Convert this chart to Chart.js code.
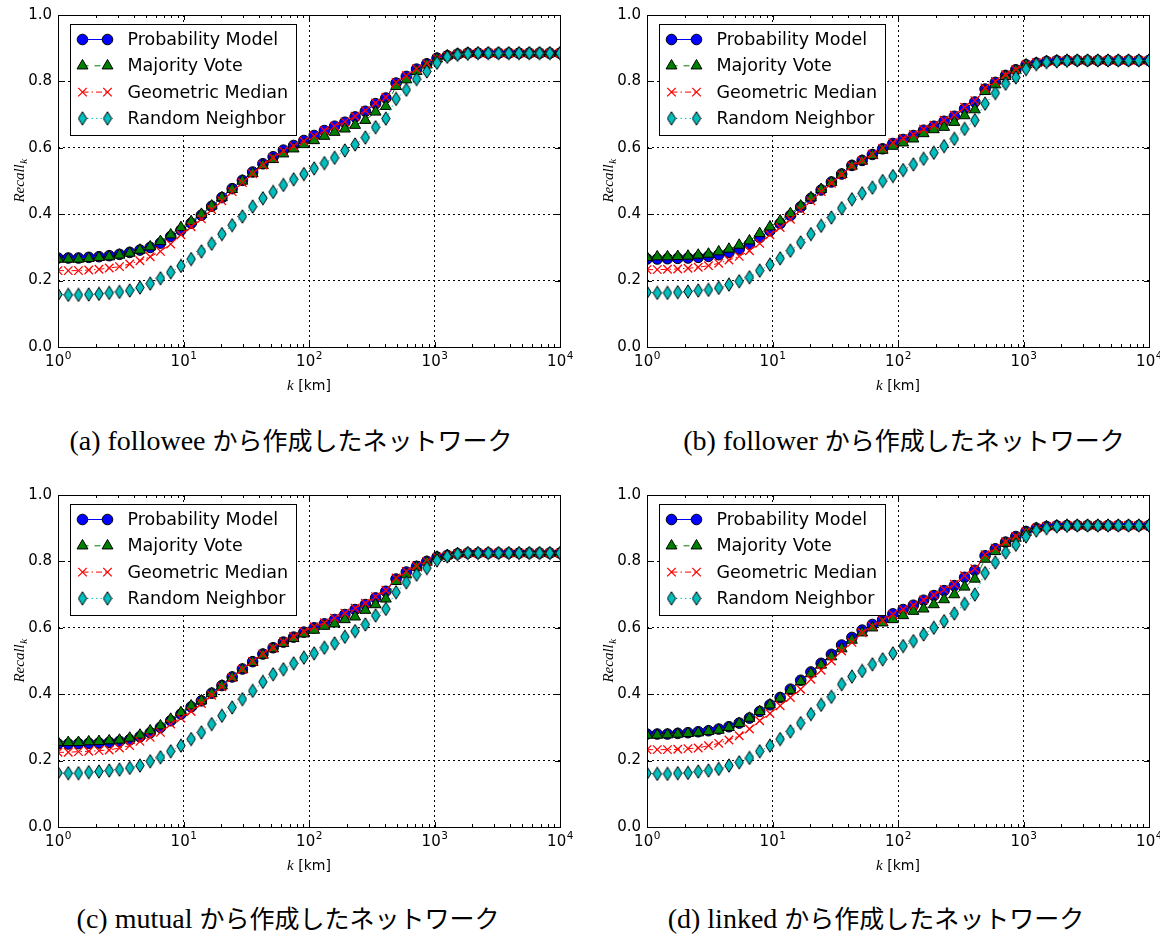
<!DOCTYPE html>
<html>
<head>
<meta charset="utf-8">
<script src="https://cdn.jsdelivr.net/npm/chart.js@4.4.1/dist/chart.umd.min.js"></script>
<style>
    body { margin: 0; background: #fff; width: 1160px; height: 938px; position: relative; overflow: hidden; }
    canvas.panel { position: absolute; }
    .caption {
        position: absolute; width: 580px; text-align: center; line-height: 34px; color: #000;
        font-family: "Liberation Serif", serif; font-size: 28px; white-space: nowrap;
    }
    .caption .ja { font-family: "Noto Sans CJK JP", sans-serif; font-size: 25px; }
</style>
</head>
<body>
<canvas id="chartA" class="panel" width="580" height="400" style="left:0;top:0"></canvas>
<canvas id="chartB" class="panel" width="580" height="400" style="left:589px;top:0"></canvas>
<canvas id="chartC" class="panel" width="580" height="400" style="left:0;top:480px"></canvas>
<canvas id="chartD" class="panel" width="580" height="400" style="left:589px;top:480px"></canvas>
<div class="caption" style="left:1px;top:422px">(a) followee <span class="ja">から作成したネットワーク</span></div>
<div class="caption" style="left:614px;top:422px">(b) follower <span class="ja">から作成したネットワーク</span></div>
<div class="caption" style="left:-2px;top:900px">(c) mutual <span class="ja">から作成したネットワーク</span></div>
<div class="caption" style="left:586px;top:900px">(d) linked <span class="ja">から作成したネットワーク</span></div>

<script>
// distance threshold k [km], 50 log-spaced steps from 1 to 10^4
const kValues = [1, 1.207, 1.456, 1.758, 2.121, 2.560, 3.089, 3.728, 4.498, 5.429,
    6.551, 7.906, 9.541, 11.51, 13.89, 16.77, 20.24, 24.42, 29.47, 35.56,
    42.92, 51.79, 62.51, 75.43, 91.03, 109.9, 132.6, 160.0, 193.1, 233.0,
    281.2, 339.3, 409.5, 494.2, 596.4, 719.7, 868.5, 1048, 1265, 1526,
    1842, 2223, 2683, 3237, 3907, 4715, 5690, 6866, 8286, 10000];

const xDecades = [1, 10, 100, 1000, 10000];
const xTickExponents = ['0', '1', '2', '3', '4'];
const yTicks = [0, 0.2, 0.4, 0.6, 0.8, 1.0];

const seriesLabels = ['Probability Model', 'Majority Vote', 'Geometric Median', 'Random Neighbor'];

// (a) followee network
const followeeProb = [.268, .268, .268, .270, .272, .275, .279, .285, .292, .300,
    .313, .333, .352, .373, .397, .424, .450, .477, .502, .527,
    .552, .573, .593, .607, .622, .637, .652, .665, .677, .693,
    .710, .733, .750, .795, .815, .837, .853, .870, .877, .882,
    .885, .885, .885, .885, .885, .885, .885, .885, .885, .885];
const followeeMajority = [.265, .265, .265, .267, .270, .272, .277, .283, .292, .302,
    .318, .338, .360, .378, .400, .425, .450, .475, .500, .523,
    .547, .565, .582, .597, .610, .622, .635, .647, .657, .668,
    .683, .708, .725, .785, .805, .830, .850, .868, .877, .882,
    .885, .885, .885, .885, .885, .885, .885, .885, .885, .885];
const followeeGeoMedian = [.230, .230, .230, .232, .234, .238, .242, .250, .260, .272,
    .288, .310, .338, .362, .386, .414, .440, .468, .495, .522,
    .548, .570, .590, .605, .620, .636, .652, .665, .678, .695,
    .712, .735, .752, .797, .817, .838, .853, .870, .877, .882,
    .884, .885, .885, .885, .885, .885, .885, .885, .885, .885];
const followeeRandom = [.158, .157, .157, .158, .160, .163, .166, .170, .179, .191,
    .207, .225, .244, .265, .288, .311, .340, .367, .393, .423,
    .448, .467, .488, .505, .521, .538, .554, .570, .592, .610,
    .631, .662, .688, .747, .775, .807, .830, .856, .874, .880,
    .883, .885, .885, .885, .885, .885, .885, .885, .885, .885];

// (b) follower network
const followerProb = [.265, .265, .266, .267, .268, .270, .273, .278, .285, .295,
    .310, .330, .350, .372, .396, .422, .448, .473, .497, .521,
    .547, .562, .580, .597, .613, .625, .637, .653, .665, .680,
    .695, .718, .738, .777, .797, .818, .835, .850, .855, .860,
    .862, .863, .863, .863, .863, .863, .863, .863, .863, .863];
const followerMajority = [.270, .272, .272, .273, .274, .277, .280, .287, .295, .307,
    .320, .342, .362, .380, .402, .425, .450, .475, .496, .520,
    .545, .560, .577, .593, .605, .615, .627, .643, .655, .662,
    .677, .697, .715, .770, .790, .815, .833, .850, .855, .860,
    .862, .863, .863, .863, .863, .863, .863, .863, .863, .863];
const followerGeoMedian = [.233, .233, .234, .235, .237, .240, .245, .252, .262, .273,
    .290, .312, .338, .360, .385, .413, .440, .468, .493, .519,
    .545, .562, .581, .599, .615, .628, .640, .656, .668, .683,
    .698, .722, .742, .780, .800, .820, .836, .850, .856, .860,
    .862, .863, .863, .863, .863, .863, .863, .863, .863, .863];
const followerRandom = [.165, .163, .163, .165, .167, .170, .172, .178, .188, .198,
    .210, .230, .248, .267, .290, .315, .340, .365, .390, .418,
    .445, .463, .480, .500, .515, .533, .550, .567, .585, .605,
    .627, .657, .683, .733, .765, .793, .812, .837, .852, .858,
    .860, .862, .863, .863, .863, .863, .863, .863, .863, .863];

// (c) mutual network
const mutualProb = [.250, .250, .251, .252, .253, .255, .258, .263, .272, .284,
    .300, .320, .340, .362, .380, .403, .426, .452, .476, .498,
    .521, .540, .557, .572, .587, .600, .612, .625, .640, .655,
    .670, .690, .710, .747, .768, .785, .800, .813, .818, .823,
    .825, .825, .825, .825, .825, .825, .825, .825, .825, .825];
const mutualMajority = [.255, .255, .255, .257, .258, .260, .262, .268, .277, .290,
    .305, .325, .345, .365, .380, .402, .425, .450, .474, .496,
    .518, .537, .553, .568, .582, .593, .605, .612, .625, .633,
    .653, .670, .687, .740, .760, .783, .798, .813, .818, .823,
    .825, .825, .825, .825, .825, .825, .825, .825, .825, .825];
const mutualGeoMedian = [.225, .225, .227, .228, .230, .232, .238, .245, .258, .270,
    .285, .310, .328, .348, .372, .397, .422, .450, .475, .499,
    .521, .540, .558, .574, .589, .603, .615, .629, .644, .659,
    .674, .694, .713, .750, .770, .786, .800, .813, .818, .823,
    .825, .825, .825, .825, .825, .825, .825, .825, .825, .825];
const mutualRandom = [.163, .162, .162, .165, .167, .170, .173, .178, .185, .198,
    .210, .228, .245, .265, .285, .310, .335, .360, .385, .410,
    .437, .460, .475, .493, .510, .523, .540, .553, .573, .590,
    .610, .637, .657, .707, .737, .760, .780, .803, .815, .822,
    .825, .825, .825, .825, .825, .825, .825, .825, .825, .825];

// (d) linked network
const linkedProb = [.280, .280, .280, .282, .284, .287, .290, .295, .302, .313,
    .328, .348, .368, .390, .415, .442, .467, .493, .520, .548,
    .571, .593, .610, .625, .642, .655, .668, .683, .697, .712,
    .727, .752, .773, .817, .838, .858, .875, .890, .900, .905,
    .907, .908, .908, .908, .908, .908, .908, .908, .908, .908];
const linkedMajority = [.277, .277, .278, .280, .282, .284, .288, .292, .300, .312,
    .328, .348, .368, .388, .412, .438, .462, .488, .513, .537,
    .563, .585, .600, .615, .625, .637, .650, .657, .670, .685,
    .700, .723, .747, .807, .830, .855, .870, .888, .900, .905,
    .907, .908, .908, .908, .908, .908, .908, .908, .908, .908];
const linkedGeoMedian = [.233, .233, .233, .234, .236, .238, .245, .252, .262, .275,
    .295, .320, .342, .365, .390, .415, .445, .472, .500, .530,
    .556, .585, .605, .622, .640, .655, .668, .684, .699, .715,
    .731, .757, .778, .820, .840, .859, .876, .890, .900, .905,
    .907, .908, .908, .908, .908, .908, .908, .908, .908, .908];
const linkedRandom = [.162, .160, .160, .162, .163, .167, .170, .175, .185, .195,
    .208, .228, .245, .265, .288, .313, .340, .368, .392, .430,
    .453, .470, .490, .505, .523, .545, .560, .580, .600, .620,
    .643, .672, .700, .765, .797, .827, .850, .875, .893, .900,
    .905, .907, .908, .908, .908, .908, .908, .908, .908, .908];

const panels = [
    { id: 'chartA', series: [followeeProb, followeeMajority, followeeGeoMedian, followeeRandom] },
    { id: 'chartB', series: [followerProb, followerMajority, followerGeoMedian, followerRandom] },
    { id: 'chartC', series: [mutualProb, mutualMajority, mutualGeoMedian, mutualRandom] },
    { id: 'chartD', series: [linkedProb, linkedMajority, linkedGeoMedian, linkedRandom] }
];

// thin diamond marker (matplotlib 'd')
function makeThinDiamond() {
    const c = document.createElement('canvas');
    c.width = 10;
    c.height = 15;
    const g = c.getContext('2d');
    g.beginPath();
    g.moveTo(5, 0.8);
    g.lineTo(9.2, 7.5);
    g.lineTo(5, 14.2);
    g.lineTo(0.8, 7.5);
    g.closePath();
    g.fillStyle = '#00bfbf';
    g.fill();
    g.strokeStyle = '#000';
    g.lineWidth = 1;
    g.stroke();
    return c;
}
const thinDiamond = makeThinDiamond();

const seriesStyles = [
    { line: '#0000ff', fill: '#0000ff', edge: '#000', marker: 'circle', radius: 5.3, width: 1, dash: [] },
    { line: '#008000', fill: '#008000', edge: '#000', marker: 'triangle', radius: 6.3, width: 1, dash: [6, 6] },
    { line: '#ff0000', fill: '#ff0000', edge: '#ff0000', marker: 'crossRot', radius: 6, width: 1.3, dash: [6, 3, 1.5, 3] },
    { line: '#00bfbf', fill: '#00bfbf', edge: '#000', marker: thinDiamond, radius: 6, width: 1, dash: [1.5, 3] }
];

const SANS = '"DejaVu Sans", sans-serif';
const SERIF = '"Liberation Serif", "DejaVu Serif", serif';

// frame, inward ticks, x tick labels, legend and axis titles
const axesDecor = {
    id: 'axesDecor',
    afterDatasetsDraw(chart) {
        const { ctx, chartArea: a, scales: { x, y } } = chart;
        ctx.save();
        ctx.strokeStyle = '#000';
        ctx.lineWidth = 1;
        ctx.setLineDash([]);
        ctx.beginPath();
        xDecades.forEach(v => {
            const px = Math.round(x.getPixelForValue(v)) + 0.5;
            ctx.moveTo(px, a.bottom); ctx.lineTo(px, a.bottom - 5);
            ctx.moveTo(px, a.top); ctx.lineTo(px, a.top + 5);
        });
        for (let d = 0; d < xDecades.length - 1; d++) {
            for (let m = 2; m <= 9; m++) {
                const px = Math.round(x.getPixelForValue(xDecades[d] * m)) + 0.5;
                ctx.moveTo(px, a.bottom); ctx.lineTo(px, a.bottom - 3);
                ctx.moveTo(px, a.top); ctx.lineTo(px, a.top + 3);
            }
        }
        yTicks.forEach(v => {
            const py = Math.round(y.getPixelForValue(v)) + 0.5;
            ctx.moveTo(a.left, py); ctx.lineTo(a.left + 5, py);
            ctx.moveTo(a.right, py); ctx.lineTo(a.right - 5, py);
        });
        ctx.stroke();
        ctx.strokeRect(Math.round(a.left) + 0.5, Math.round(a.top) + 0.5,
            Math.round(a.right - a.left), Math.round(a.bottom - a.top));

        // x tick labels 10^n
        ctx.fillStyle = '#000';
        ctx.textBaseline = 'alphabetic';
        xDecades.forEach((v, i) => {
            const px = x.getPixelForValue(v);
            ctx.font = '15px ' + SANS;
            const wb = ctx.measureText('10').width;
            ctx.font = '10.5px ' + SANS;
            const we = ctx.measureText(xTickExponents[i]).width;
            const sx = px - (wb + we) / 2;
            ctx.font = '15px ' + SANS;
            ctx.fillText('10', sx, a.bottom + 19);
            ctx.font = '10.5px ' + SANS;
            ctx.fillText(xTickExponents[i], sx + wb + 0.5, a.bottom + 12);
        });

        // legend box
        const bx = a.left + 12.5, by = a.top + 9.5, bw = 226, bh = 111;
        ctx.fillStyle = '#fff';
        ctx.fillRect(bx, by, bw, bh);
        ctx.strokeRect(bx, by, bw, bh);
        ctx.font = '17.5px ' + SANS;
        ctx.textBaseline = 'middle';
        chart.data.datasets.forEach((ds, i) => {
            const st = seriesStyles[i];
            const ry = by + 15 + i * 26.3;
            const x1 = bx + 12, x2 = bx + 37;
            ctx.save();
            ctx.strokeStyle = st.line;
            ctx.setLineDash(st.dash);
            ctx.beginPath();
            ctx.moveTo(x1, ry); ctx.lineTo(x2, ry);
            ctx.stroke();
            ctx.setLineDash([]);
            ctx.fillStyle = st.fill;
            ctx.strokeStyle = st.edge;
            ctx.lineWidth = st.width;
            const opts = { pointStyle: st.marker, radius: st.radius, borderWidth: st.width, rotation: 0 };
            Chart.helpers.drawPoint(ctx, opts, x1, ry);
            Chart.helpers.drawPoint(ctx, opts, x2, ry);
            ctx.restore();
            ctx.fillStyle = '#000';
            ctx.fillText(ds.label, bx + 57, ry + 1);
        });

        // y title: Recall_k
        const midY = (a.top + a.bottom) / 2;
        ctx.save();
        ctx.translate(19, midY);
        ctx.rotate(-Math.PI / 2);
        ctx.fillStyle = '#000';
        ctx.textBaseline = 'alphabetic';
        ctx.font = 'italic 15px ' + SERIF;
        const wR = ctx.measureText('Recall').width;
        ctx.font = 'italic 11px ' + SERIF;
        const wK = ctx.measureText('k').width;
        const sx = -(wR + wK) / 2;
        ctx.font = 'italic 15px ' + SERIF;
        ctx.fillText('Recall', sx, 5);
        ctx.font = 'italic 11px ' + SERIF;
        ctx.fillText('k', sx + wR + 0.5, 8);
        ctx.restore();

        // x title: k [km]
        ctx.fillStyle = '#000';
        ctx.textBaseline = 'alphabetic';
        ctx.font = 'italic 15px ' + SERIF;
        const wk = ctx.measureText('k').width;
        ctx.font = '14px ' + SANS;
        const wu = ctx.measureText(' [km]').width;
        const tx = (a.left + a.right) / 2 - (wk + wu) / 2;
        ctx.font = 'italic 15px ' + SERIF;
        ctx.fillText('k', tx, 390);
        ctx.font = '14px ' + SANS;
        ctx.fillText(' [km]', tx + wk, 390);
        ctx.restore();
    }
};

function buildChart(panel) {
    const ctx = document.getElementById(panel.id).getContext('2d');
    const datasets = panel.series.map((vals, i) => {
        const st = seriesStyles[i];
        return {
            label: seriesLabels[i],
            data: kValues.map((k, j) => ({ x: k, y: vals[j] })),
            borderColor: st.line,
            borderWidth: 1,
            borderDash: st.dash,
            backgroundColor: st.fill,
            pointStyle: st.marker,
            pointRadius: st.radius,
            pointBackgroundColor: st.fill,
            pointBorderColor: st.edge,
            pointBorderWidth: st.width,
            tension: 0,
            fill: false,
            clip: 0,
            order: 3 - i
        };
    });
    return new Chart(ctx, {
        type: 'line',
        data: { datasets: datasets },
        options: {
            responsive: false,
            animation: false,
            events: [],
            layout: { padding: { top: 14, right: 20, left: 0, bottom: 0 } },
            plugins: { legend: { display: false }, tooltip: { enabled: false } },
            scales: {
                x: {
                    type: 'logarithmic',
                    min: 1,
                    max: 10000,
                    afterBuildTicks: s => { s.ticks = xDecades.map(v => ({ value: v })); },
                    afterFit: s => { s.height = 53; },
                    grid: { color: '#000', lineWidth: 1, drawTicks: false },
                    border: { display: false, dash: [2, 3] },
                    ticks: { display: false }
                },
                y: {
                    min: 0,
                    max: 1,
                    afterBuildTicks: s => { s.ticks = yTicks.map(v => ({ value: v })); },
                    afterFit: s => { s.width = 58; },
                    grid: { color: '#000', lineWidth: 1, drawTicks: false },
                    border: { display: false, dash: [2, 3] },
                    ticks: {
                        color: '#000',
                        font: { family: SANS, size: 15 },
                        padding: 6,
                        callback: v => v.toFixed(1)
                    }
                }
            }
        },
        plugins: [axesDecor]
    });
}

panels.forEach(buildChart);
</script>
</body>
</html>
